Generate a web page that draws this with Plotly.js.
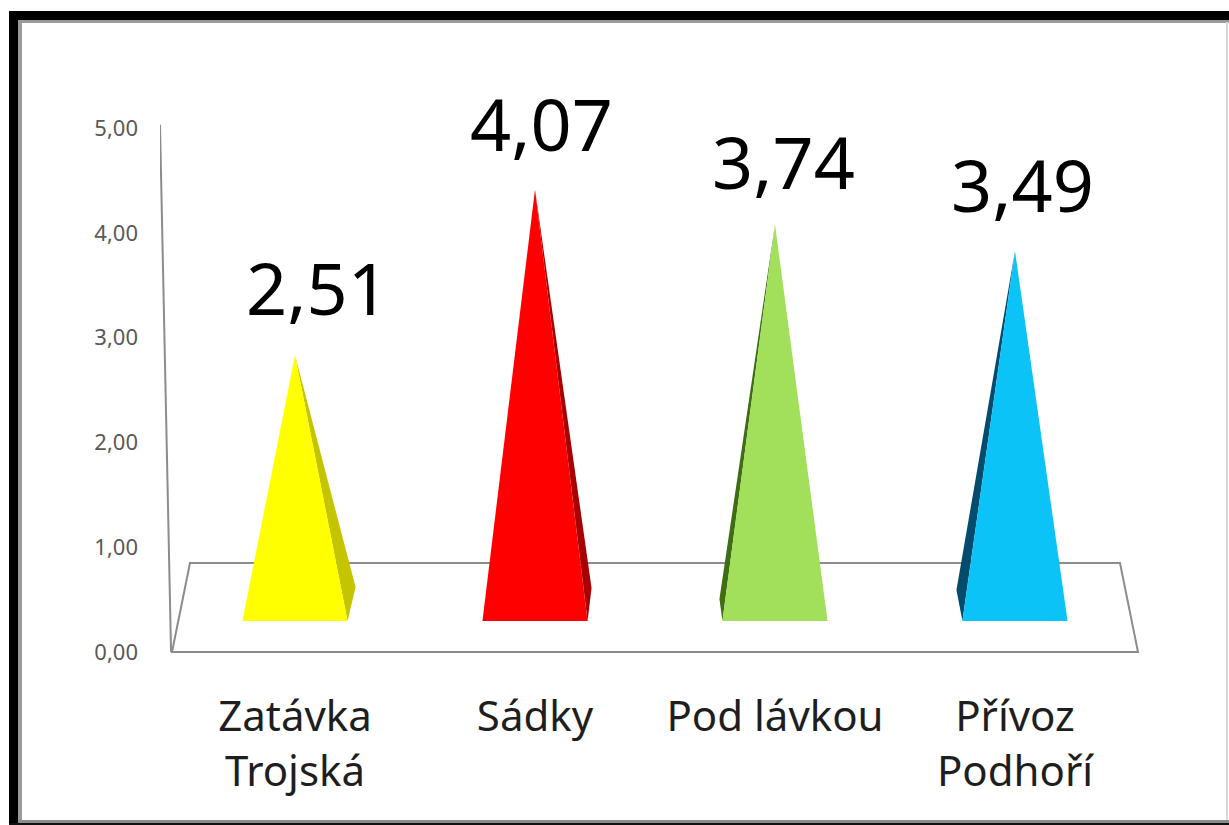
<!DOCTYPE html>
<html>
<head>
<meta charset="utf-8">
<script src="https://cdn.plot.ly/plotly-3.0.1.min.js"></script>
<style>
  html, body { margin: 0; padding: 0; background: #ffffff; }
  #chart { width: 1229px; height: 825px; }
</style>
</head>
<body>
<div id="chart"></div>
<script>
// ---- data ----
var categories = ["Zatávka<br>Trojská", "Sádky", "Pod lávkou", "Přívoz<br>Podhoří"];
var values = [2.51, 4.07, 3.74, 3.49];
var tickValues = [0, 1, 2, 3, 4, 5];
var frontColors = ["#FFFF00", "#FF0000", "#A2DF5A", "#0CC3F8"];
var sideColors = ["#C4C400", "#A80000", "#3F6E12", "#034C6E"];

// ---- geometry / style (not data) ----
var W = 1229, H = 825;
var ML = 160;                 // left margin in px
var pxPerX = 240;             // px per category step
var firstCatPx = 295;         // pixel x of first category
var pxPerY = 104.8;           // px per unit on the tick axis
var zeroPx = 652;             // pixel y of 0 on tick axis
var pyrPxPerY = 106;          // px per unit for pyramids (nearer in 3D)
var pyrZeroPx = 621;          // pixel y of pyramid base
var sideDir = [1, 1, -1, -1];
var sideWpx = [8, 4, 3, 6];
var sideHpx = [34, 33, 22, 31];
var halfBase = 0.219;
var labelDx = [22, 6, 8, 7];
var labelDy = [68, 67, 64, 67];

var x0 = -(firstCatPx - ML) / pxPerX;
var x1 = x0 + (W - ML) / pxPerX;
var yRange = [(zeroPx - H) / pxPerY, zeroPx / pxPerY];
var y2Range = [(pyrZeroPx - H) / pyrPxPerY, pyrZeroPx / pyrPxPerY];

function fmt(v) { return v.toFixed(2).replace('.', ','); }
function pxX(p) { return (p - ML) / (W - ML); }
function pxY(p) { return (H - p) / H; }

var traces = [];
categories.forEach(function (c, i) {
  var v = values[i];
  var sw = sideWpx[i] / pxPerX, sh = sideHpx[i] / pyrPxPerY, d = sideDir[i];
  var baseEdge = i + d * halfBase;
  // side face
  traces.push({
    x: [baseEdge, baseEdge + d * sw, i, baseEdge],
    y: [0, sh, v, 0],
    xaxis: 'x', yaxis: 'y2', mode: 'lines', fill: 'toself',
    fillcolor: sideColors[i], line: { width: 0, color: sideColors[i] },
    hoverinfo: 'skip', showlegend: false
  });
  // front face
  traces.push({
    x: [i - halfBase, i + halfBase, i, i - halfBase],
    y: [0, 0, v, 0],
    xaxis: 'x', yaxis: 'y2', mode: 'lines', fill: 'toself',
    fillcolor: frontColors[i], line: { width: 0, color: frontColors[i] },
    hoverinfo: 'skip', showlegend: false
  });
});

// data labels
var annotations = values.map(function (v, i) {
  return {
    x: i, y: v, xref: 'x', yref: 'y2', text: fmt(v), showarrow: false,
    xanchor: 'center', yanchor: 'middle', xshift: labelDx[i], yshift: labelDy[i],
    font: { family: 'Noto Sans', size: 72, color: '#000000' }
  };
});

// floor + axis line (in data coordinates)
var n = categories.length;
var floorFrontL = -0.5125, floorFrontR = n - 1 + 0.5125;
var floorInsetL = 0.075, floorInsetR = 0.075, floorDepth = 0.849;
var lineCol = '#8C8C8C';
var shapes = [
  { type: 'path', xref: 'x', yref: 'y', layer: 'below',
    path: 'M ' + floorFrontL + ',0 L ' + floorFrontR + ',0 L ' + (floorFrontR - floorInsetR) + ',' + floorDepth +
          ' L ' + (floorFrontL + floorInsetL) + ',' + floorDepth + ' Z',
    line: { color: lineCol, width: 2 }, fillcolor: 'rgba(0,0,0,0)' },
  { type: 'line', xref: 'x', yref: 'y', layer: 'below',
    x0: floorFrontL - 0.004, y0: 0, x1: floorFrontL - 0.05, y1: 5.03,
    line: { color: lineCol, width: 2 } },
  // frame
  { type: 'rect', xref: 'paper', yref: 'paper', x0: pxX(18), x1: pxX(22), y0: pxY(825), y1: pxY(20),
    fillcolor: '#9a9a9a', line: { width: 0 } },
  { type: 'rect', xref: 'paper', yref: 'paper', x0: pxX(18), x1: pxX(1229), y0: pxY(23), y1: pxY(20),
    fillcolor: '#9a9a9a', line: { width: 0 } },
  { type: 'rect', xref: 'paper', yref: 'paper', x0: pxX(9), x1: pxX(18), y0: pxY(825), y1: pxY(11),
    fillcolor: '#000000', line: { width: 0 } },
  { type: 'rect', xref: 'paper', yref: 'paper', x0: pxX(9), x1: pxX(1229), y0: pxY(20), y1: pxY(11),
    fillcolor: '#000000', line: { width: 0 } },
  { type: 'rect', xref: 'paper', yref: 'paper', x0: pxX(18), x1: pxX(1229), y0: pxY(823), y1: pxY(820),
    fillcolor: '#8a8a8a', line: { width: 0 } },
  { type: 'rect', xref: 'paper', yref: 'paper', x0: pxX(9), x1: pxX(1229), y0: pxY(825), y1: pxY(823),
    fillcolor: '#111111', line: { width: 0 } },
  { type: 'rect', xref: 'paper', yref: 'paper', x0: pxX(1226), x1: pxX(1228), y0: pxY(820), y1: pxY(22),
    fillcolor: '#d8d8d8', line: { width: 0 } }
];

var layout = {
  width: W, height: H,
  margin: { l: ML, r: 0, t: 0, b: 0, pad: 0 },
  paper_bgcolor: '#ffffff', plot_bgcolor: 'rgba(0,0,0,0)',
  separators: ', ',
  showlegend: false,
  xaxis: {
    range: [x0, x1], anchor: 'free', position: pxY(688),
    tickmode: 'array', tickvals: categories.map(function (c, i) { return i; }),
    ticktext: categories, ticks: '', showline: false, showgrid: false, zeroline: false,
    tickfont: { family: 'Noto Sans', size: 42, color: '#1e1e1e' },
    automargin: false, fixedrange: true
  },
  yaxis: {
    range: yRange, tickmode: 'array', tickvals: tickValues, tickformat: '.2f',
    ticks: '', showline: false, showgrid: false, zeroline: false,
    tickfont: { family: 'Noto Sans', size: 22, color: '#595959' },
    ticklabelstandoff: 21, automargin: false, fixedrange: true
  },
  yaxis2: {
    range: y2Range, overlaying: 'y', visible: false, fixedrange: true
  },
  annotations: annotations,
  shapes: shapes
};

Plotly.newPlot('chart', traces, layout, { displayModeBar: false, staticPlot: true });
</script>
</body>
</html>
